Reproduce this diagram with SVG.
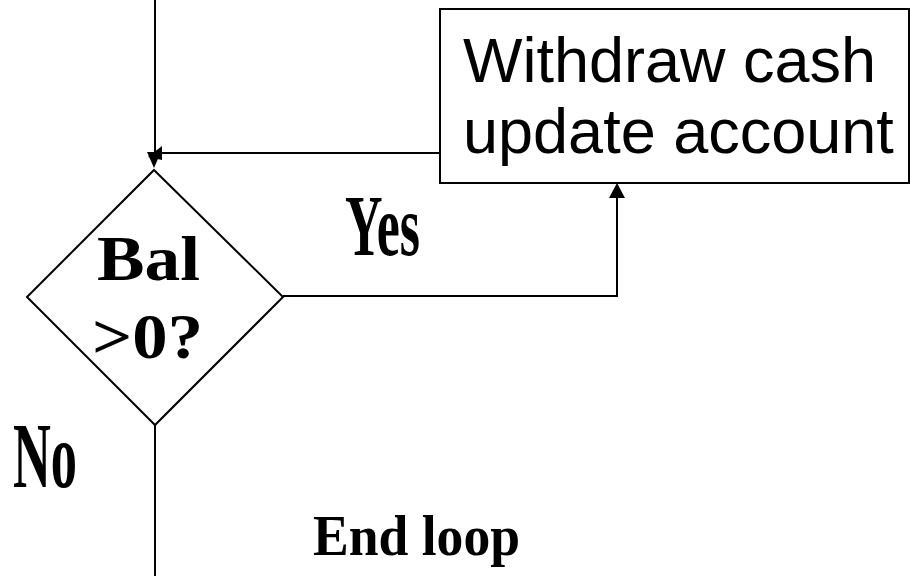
<svg xmlns="http://www.w3.org/2000/svg" width="910" height="576" viewBox="0 0 910 576">
<style>
.ln{stroke:#000;stroke-width:2;fill:none}
.shape{stroke:#000;stroke-width:2;fill:#fff}
.ah{fill:#000}
.sans{font-family:"Liberation Sans",Arial,sans-serif;font-size:63px;fill:#000}
.serif{font-family:"Liberation Serif","Times New Roman",serif;font-weight:bold;fill:#000}
</style>
<rect width="910" height="576" fill="#fff"/>
<g id="connectors">
<line class="ln" x1="155" y1="0" x2="155" y2="158"/>
<polygon class="ah" points="154,168 147,152 161,152"/>
<line class="ln" x1="440" y1="153" x2="158" y2="153"/>
<polygon class="ah" points="148,157 162,146 162,160"/>
<polyline class="ln" points="283,296 617,296 617,195"/>
<polygon class="ah" points="617,183 609,198 625,198"/>
<line class="ln" x1="155" y1="425" x2="155" y2="576"/>
</g>
<g id="decision">
<polygon class="shape" points="154,170 283,297 155,425 27,297"/>
<text class="serif" x="97" y="280" font-size="63" textLength="103" lengthAdjust="spacingAndGlyphs">Bal</text>
<text class="serif" x="92" y="358" font-size="63" textLength="111" lengthAdjust="spacingAndGlyphs">&gt;0?</text>
</g>
<g id="withdraw">
<rect class="shape" x="440" y="9" width="469" height="174"/>
<text class="sans" x="463" y="82">Withdraw cash</text>
<text class="sans" x="463" y="153">update account</text>
</g>
<g id="labels">
<text class="serif" x="345" y="255" font-size="86" textLength="75" lengthAdjust="spacingAndGlyphs">Yes</text>
<text class="serif" x="13" y="487" font-size="93" textLength="64" lengthAdjust="spacingAndGlyphs">No</text>
<text class="serif" x="313" y="555" font-size="56" textLength="207" lengthAdjust="spacingAndGlyphs">End loop</text>
</g>
</svg>
